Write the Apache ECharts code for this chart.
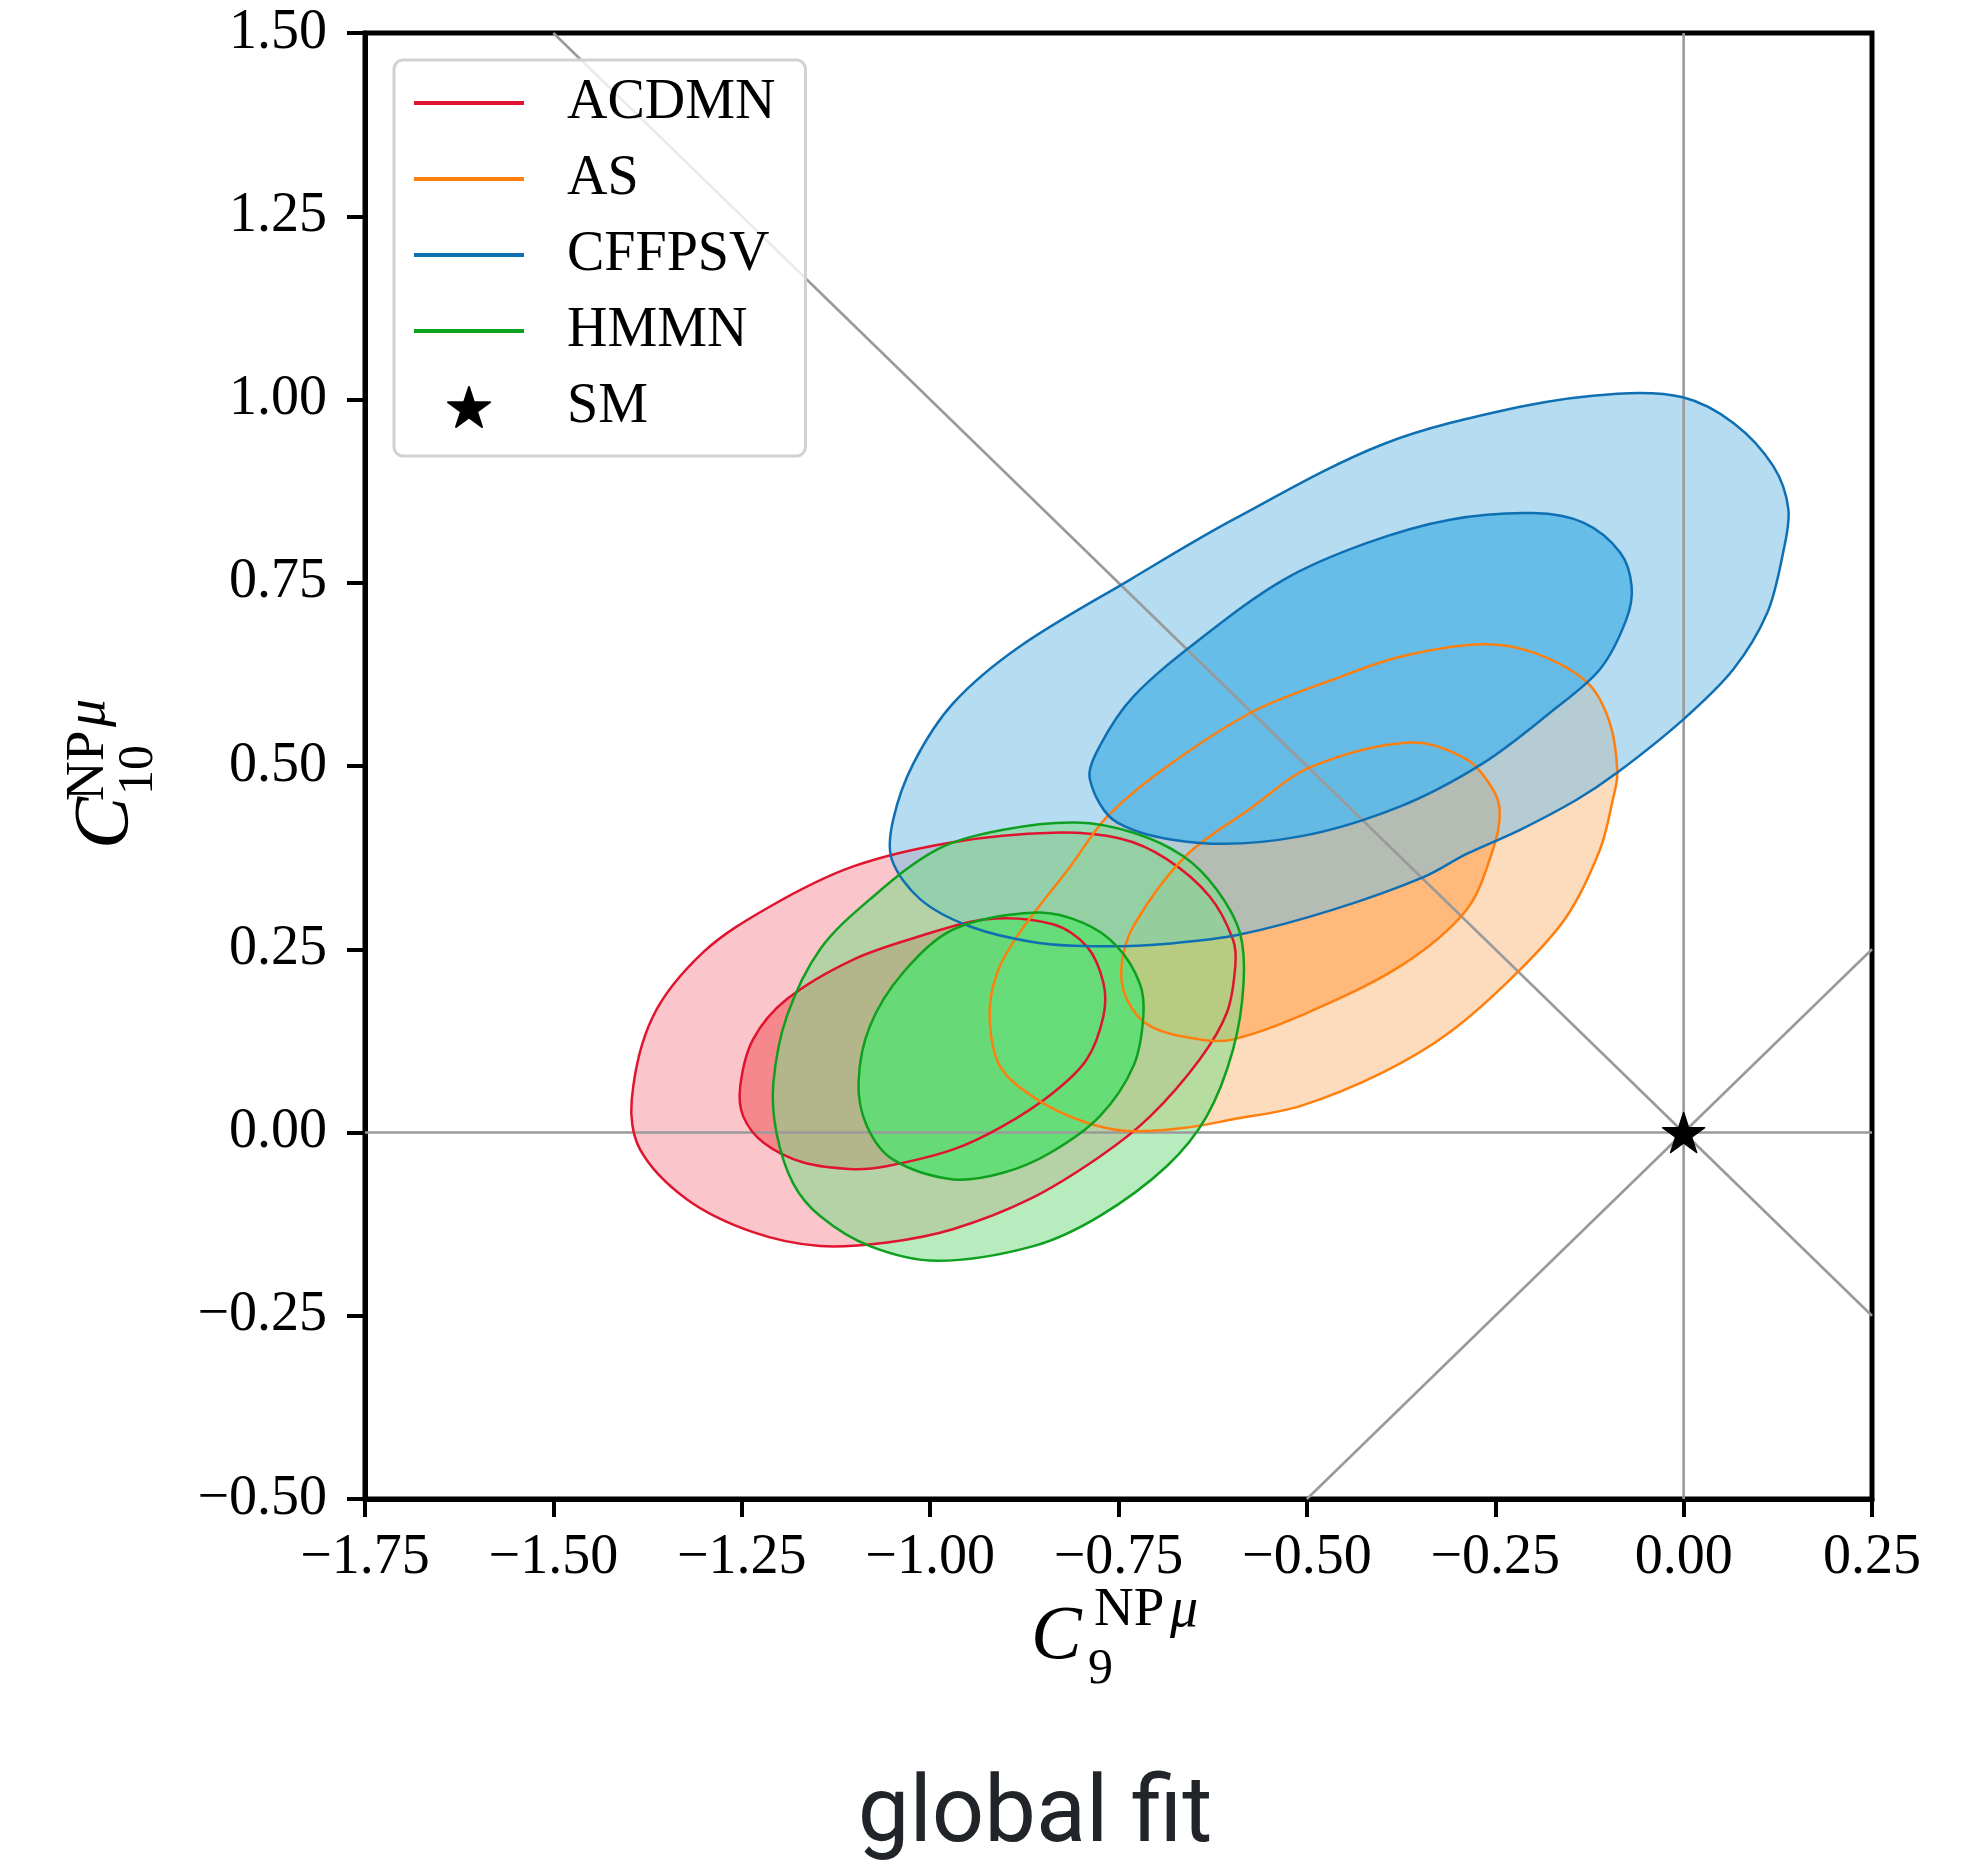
<!DOCTYPE html>
<html>
<head>
<meta charset="utf-8">
<script src="https://cdn.jsdelivr.net/npm/echarts@6/dist/echarts.min.js"></script>
<style>
  html, body { margin: 0; padding: 0; background: #ffffff; }
  #chart { width: 1979px; height: 1866px; }
</style>
</head>
<body>
<div id="chart"></div>
<script>
// Axis ticks (Wilson coefficients C9 and C10, new physics in muons)
const xTicks = [-1.75, -1.5, -1.25, -1.0, -0.75, -0.5, -0.25, 0.0, 0.25];
const yTicks = [-0.5, -0.25, 0.0, 0.25, 0.5, 0.75, 1.0, 1.25, 1.5];

const models = ['ACDMN', 'AS', 'CFFPSV', 'HMMN'];
const lineColors = ['#e0142f', '#ff7f0e', '#0f6fb3', '#0ea01e'];
const outerFills = ['rgba(248,150,162,0.55)', 'rgba(251,190,135,0.55)', 'rgba(120,191,228,0.55)', 'rgba(124,220,137,0.55)'];
const innerFills = ['rgba(244,124,129,0.85)', 'rgba(254,181,115,0.90)', 'rgba(94,186,231,0.92)', 'rgba(97,221,117,0.92)'];

// Contour boundaries [C9, C10]; "2" = 2 sigma region, "1" = 1 sigma region
const acdmn2 = [[-1.396,0.045],[-1.368,0.158],[-1.301,0.246],[-1.213,0.308],[-1.102,0.363],[-0.970,0.396],[-0.837,0.409],[-0.748,0.401],[-0.686,0.373],[-0.629,0.322],[-0.598,0.263],[-0.595,0.227],[-0.606,0.164],[-0.642,0.100],[-0.708,0.022],[-0.775,-0.033],[-0.868,-0.091],[-0.970,-0.132],[-1.057,-0.150],[-1.146,-0.155],[-1.235,-0.136],[-1.323,-0.091],[-1.385,-0.023]];
const acdmn1 = [[-1.252,0.063],[-1.235,0.127],[-1.190,0.182],[-1.102,0.236],[-1.013,0.268],[-0.925,0.291],[-0.837,0.284],[-0.792,0.254],[-0.770,0.204],[-0.770,0.159],[-0.792,0.100],[-0.837,0.054],[-0.903,0.009],[-0.969,-0.023],[-1.058,-0.046],[-1.102,-0.050],[-1.168,-0.041],[-1.221,-0.014],[-1.248,0.022]];
const as2 = [[-0.921,0.158],[-0.911,0.218],[-0.881,0.273],[-0.814,0.363],[-0.765,0.431],[-0.686,0.499],[-0.572,0.574],[-0.465,0.618],[-0.376,0.649],[-0.270,0.666],[-0.200,0.655],[-0.128,0.614],[-0.098,0.559],[-0.088,0.491],[-0.094,0.454],[-0.111,0.386],[-0.155,0.295],[-0.221,0.218],[-0.310,0.137],[-0.399,0.082],[-0.509,0.036],[-0.598,0.018],[-0.664,0.006],[-0.739,0.002],[-0.797,0.015],[-0.858,0.045],[-0.907,0.090]];
const as1 = [[-0.746,0.227],[-0.730,0.282],[-0.660,0.378],[-0.576,0.441],[-0.496,0.498],[-0.363,0.532],[-0.288,0.509],[-0.253,0.468],[-0.244,0.436],[-0.253,0.386],[-0.288,0.304],[-0.376,0.227],[-0.509,0.159],[-0.598,0.127],[-0.642,0.127],[-0.708,0.145],[-0.739,0.182]];
const cffpsv2 = [[-1.051,0.373],[-1.049,0.427],[-1.022,0.504],[-0.969,0.586],[-0.881,0.663],[-0.735,0.754],[-0.598,0.836],[-0.399,0.939],[-0.217,0.990],[-0.088,1.008],[-0.001,1.003],[0.066,0.968],[0.119,0.909],[0.139,0.850],[0.132,0.791],[0.111,0.709],[0.066,0.632],[-0.001,0.563],[-0.088,0.491],[-0.142,0.454],[-0.217,0.413],[-0.288,0.380],[-0.346,0.348],[-0.465,0.304],[-0.589,0.270],[-0.680,0.258],[-0.771,0.254],[-0.858,0.259],[-0.947,0.281],[-1.013,0.318]];
const cffpsv1 = [[-0.788,0.482],[-0.775,0.527],[-0.730,0.595],[-0.642,0.673],[-0.531,0.754],[-0.421,0.804],[-0.310,0.836],[-0.200,0.845],[-0.133,0.832],[-0.084,0.791],[-0.069,0.745],[-0.076,0.700],[-0.111,0.632],[-0.177,0.573],[-0.266,0.504],[-0.376,0.445],[-0.509,0.404],[-0.642,0.395],[-0.752,0.423]];
const hmmn2 = [[-1.208,0.068],[-1.190,0.159],[-1.146,0.250],[-1.080,0.318],[-0.991,0.386],[-0.903,0.413],[-0.806,0.423],[-0.730,0.409],[-0.664,0.377],[-0.620,0.332],[-0.589,0.273],[-0.584,0.204],[-0.598,0.113],[-0.633,0.022],[-0.686,-0.046],[-0.775,-0.114],[-0.863,-0.155],[-0.991,-0.175],[-1.080,-0.155],[-1.146,-0.114],[-1.182,-0.069],[-1.204,0.000]];
const hmmn1 = [[-1.095,0.068],[-1.080,0.145],[-1.036,0.218],[-0.969,0.277],[-0.859,0.300],[-0.797,0.286],[-0.752,0.254],[-0.722,0.204],[-0.717,0.159],[-0.730,0.091],[-0.775,0.022],[-0.841,-0.028],[-0.903,-0.055],[-0.969,-0.064],[-1.049,-0.037],[-1.084,0.009]];

const outerRegions = [acdmn2, as2, cffpsv2, hmmn2];
const innerRegions = [acdmn1, as1, cffpsv1, hmmn1];

// Standard Model point
const smPoint = [[0, 0]];

// Reference lines: C10 = 0, C9 = 0, C9 = -C10, C9 = C10
const refLines = [
  [[-1.75, 0], [0.25, 0]],
  [[0, -0.5], [0, 1.5]],
  [[-1.5, 1.5], [0.25, -0.25]],
  [[-0.5, -0.5], [0.25, 0.25]]
];

const SERIF = '"Liberation Serif", "DejaVu Serif", serif';
const starPath = 'path://M50,0 L61.2,34.5 L97.6,34.5 L68.2,55.9 L79.4,90.5 L50,69.1 L20.6,90.5 L31.8,55.9 L2.4,34.5 L38.8,34.5 Z';
const linePath = 'path://M0,0 L110,0 L110,4 L0,4 Z';

function tickText(v) {
  if (Math.abs(v) < 1e-9) return '0.00';
  return (v < 0 ? '\u2212' : '') + Math.abs(v).toFixed(2);
}

// One closed smooth region per series, projected through the cartesian axes
function regionSeries(name, points, fill, stroke, z) {
  return {
    type: 'custom',
    name: name,
    z: z,
    silent: true,
    encode: { x: 0, y: 1 },
    itemStyle: { color: stroke },
    data: points,
    renderItem: function (params, api) {
      if (params.dataIndex !== 0) return null;
      const pts = points.map(function (p) { return api.coord(p); });
      return {
        type: 'polygon',
        shape: { points: pts, smooth: 0.33 },
        style: fill ? { fill: fill, stroke: null } : { fill: null, stroke: stroke, lineWidth: 2.5 }
      };
    }
  };
}

const series = [];
// filled regions first (each model: 2 sigma then 1 sigma)
models.forEach(function (m, i) {
  series.push(regionSeries(m, outerRegions[i], outerFills[i], lineColors[i], 1));
  series.push(regionSeries(m, innerRegions[i], innerFills[i], lineColors[i], 1));
});
// reference lines
refLines.forEach(function (seg, k) {
  series.push({
    type: 'line', name: 'ref' + k, data: seg, z: 2, silent: true,
    showSymbol: false, symbol: 'none',
    lineStyle: { color: '#9a9a9a', width: 2.6 }
  });
});
// contour outlines
models.forEach(function (m, i) {
  series.push(regionSeries(m, outerRegions[i], null, lineColors[i], 3));
  series.push(regionSeries(m, innerRegions[i], null, lineColors[i], 3));
});
// SM point
series.push({
  type: 'scatter', name: 'SM', data: smPoint, z: 5, silent: true,
  symbol: starPath, symbolSize: [42, 40],
  itemStyle: { color: '#000', opacity: 1, borderColor: '#000', borderWidth: 1.5, borderJoin: 'round' }
});

const chart = echarts.init(document.getElementById('chart'), null, { renderer: 'canvas' });
chart.setOption({
  animation: false,
  backgroundColor: '#ffffff',
  grid: {
    left: 365, top: 33, right: 107, bottom: 367,
    show: true, borderColor: '#000', borderWidth: 5, backgroundColor: 'transparent'
  },
  xAxis: {
    type: 'value', min: xTicks[0], max: xTicks[xTicks.length - 1], interval: 0.25,
    axisLine: { show: true, onZero: false, lineStyle: { color: '#000', width: 5 } },
    axisTick: { show: true, inside: false, length: 18, lineStyle: { color: '#000', width: 4 } },
    axisLabel: { fontFamily: SERIF, fontSize: 56, color: '#000', margin: 31, formatter: tickText },
    splitLine: { show: false }
  },
  yAxis: {
    type: 'value', min: yTicks[0], max: yTicks[yTicks.length - 1], interval: 0.25,
    axisLine: { show: true, onZero: false, lineStyle: { color: '#000', width: 5 } },
    axisTick: { show: true, inside: false, length: 18, lineStyle: { color: '#000', width: 4 } },
    axisLabel: { fontFamily: SERIF, fontSize: 56, color: '#000', margin: 38, formatter: tickText },
    splitLine: { show: false }
  },
  legend: {
    orient: 'vertical', left: 394, top: 60, align: 'left',
    padding: [15, 30, 21, 20],
    itemWidth: 110, itemHeight: 40, itemGap: 20,
    backgroundColor: 'rgba(255,255,255,0.8)', borderColor: '#d2d2d2', borderWidth: 3, borderRadius: 9,
    selectedMode: false,
    textStyle: { fontFamily: SERIF, fontSize: 56, color: '#000', padding: [0, 0, 0, 38] },
    data: models.map(function (m) { return { name: m, icon: linePath }; })
      .concat([{ name: 'SM', icon: starPath, itemStyle: { opacity: 1, color: '#000' } }])
  },
  graphic: [
    // x axis title C_9^{NP mu}
    { type: 'text', x: 1031, y: 1638, style: { text: 'C', font: 'italic 76px ' + SERIF, fill: '#000', align: 'left', verticalAlign: 'middle' } },
    { type: 'text', x: 1094, y: 1611, style: { text: 'NP', font: '55px ' + SERIF, fill: '#000', align: 'left', verticalAlign: 'middle' } },
    { type: 'text', x: 1170, y: 1611, style: { text: '\u03bc', font: 'italic 56px ' + SERIF, fill: '#000', align: 'left', verticalAlign: 'middle' } },
    { type: 'text', x: 1088, y: 1670, style: { text: '9', font: '50px ' + SERIF, fill: '#000', align: 'left', verticalAlign: 'middle' } },
    // y axis title C_10^{NP mu}
    { type: 'text', x: 106, y: 849, rotation: Math.PI / 2, style: { text: 'C', font: 'italic 78px ' + SERIF, fill: '#000', align: 'left', verticalAlign: 'middle' } },
    { type: 'text', x: 89, y: 801, rotation: Math.PI / 2, style: { text: 'NP', font: '55px ' + SERIF, fill: '#000', align: 'left', verticalAlign: 'middle' } },
    { type: 'text', x: 89, y: 727, rotation: Math.PI / 2, style: { text: '\u03bc', font: 'italic 56px ' + SERIF, fill: '#000', align: 'left', verticalAlign: 'middle' } },
    { type: 'text', x: 139, y: 795, rotation: Math.PI / 2, style: { text: '10', font: '50px ' + SERIF, fill: '#000', align: 'left', verticalAlign: 'middle' } },
    // caption
    { type: 'text', x: 1035, y: 1818, style: { text: 'global fit', font: '92px Roboto, "Noto Sans", sans-serif', fill: '#212529', align: 'center', verticalAlign: 'middle' } }
  ],
  series: series
});
</script>
</body>
</html>
